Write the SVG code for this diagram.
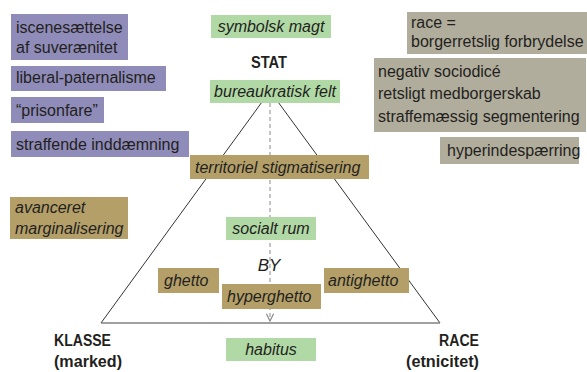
<svg xmlns="http://www.w3.org/2000/svg" width="587" height="372" viewBox="0 0 587 372">
<defs>
<style>
text{font-family:"Liberation Sans",Arial,sans-serif;font-size:16px;fill:#231f20}
.it{font-style:italic}
.b{font-weight:bold;font-size:16px}
.pu{fill:#8f8cb9}
.gr{fill:#b1ad9c}
.br{fill:#b49f69}
.gn{fill:#b1d9a6}
.mid{text-anchor:middle}
.end{text-anchor:end}
</style>
<marker id="ah" viewBox="0 0 10 10" refX="9" refY="5" markerWidth="9" markerHeight="9" orient="auto" markerUnits="userSpaceOnUse">
<path d="M1,1 L9,5 L1,9" fill="none" stroke="#888" stroke-width="1.3"/>
</marker>
</defs>
<rect width="587" height="372" fill="#fff"/>
<g id="connectors">
<line x1="101" y1="323" x2="270" y2="91" stroke="#333" stroke-width="1"/>
<line x1="440" y1="323" x2="270" y2="91" stroke="#333" stroke-width="1"/>
<line x1="101" y1="323" x2="440" y2="323" stroke="#808080" stroke-width="1.6"/>
<line x1="270" y1="103" x2="270" y2="321" stroke="#888" stroke-width="1" stroke-dasharray="4,3" marker-end="url(#ah)"/>
</g>
<g id="iscenesaettelse"><rect class="pu" x="11" y="14" width="117" height="46"/><text x="16" y="33">iscenesættelse</text><text x="16" y="53">af suverænitet</text></g>
<g id="liberal"><rect class="pu" x="11" y="66" width="155" height="25"/><text x="16" y="83">liberal-paternalisme</text></g>
<g id="prisonfare"><rect class="pu" x="11" y="97" width="93" height="26"/><text x="16" y="116">“prisonfare”</text></g>
<g id="straffende"><rect class="pu" x="11" y="131" width="178" height="26"/><text x="16" y="150">straffende inddæmning</text></g>
<g id="symbolsk"><rect class="gn" x="211" y="15" width="120" height="23"/><text class="it mid" x="271" y="32">symbolsk magt</text></g>
<g id="stat"><text class="b" x="251" y="68" textLength="36" lengthAdjust="spacingAndGlyphs">STAT</text></g>
<g id="bureau"><rect class="gn" x="210" y="80" width="130" height="23"/><text class="it mid" x="275" y="97">bureaukratisk felt</text></g>
<g id="race-box"><rect class="gr" x="407" y="12" width="180" height="42"/><text x="411" y="28">race =</text><text x="411" y="47">borgerretslig forbrydelse</text></g>
<g id="negativ"><rect class="gr" x="374" y="58" width="212" height="74"/><text x="378" y="77">negativ sociodicé</text><text x="378" y="99">retsligt medborgerskab</text><text x="378" y="122">straffemæssig segmentering</text></g>
<g id="hyperindes"><rect class="gr" x="440" y="137" width="139" height="27"/><text x="447" y="156">hyperindespærring</text></g>
<g id="territoriel"><rect class="br" x="190" y="155" width="179" height="24"/><text class="it" x="195" y="173">territoriel stigmatisering</text></g>
<g id="avanceret"><rect class="br" x="10" y="197" width="118" height="42"/><text class="it" x="15" y="213">avanceret</text><text class="it" x="15" y="234">marginalisering</text></g>
<g id="socialt"><rect class="gn" x="226" y="217" width="90" height="23"/><text class="it mid" x="271" y="234">socialt rum</text></g>
<g id="by"><text class="it mid" x="269" y="271" style="font-size:17px">BY</text></g>
<g id="ghetto"><rect class="br" x="158" y="268" width="61" height="25"/><text class="it" x="164" y="286">ghetto</text></g>
<g id="antighetto"><rect class="br" x="324" y="268" width="85" height="25"/><text class="it" x="328" y="286">antighetto</text></g>
<g id="hyperghetto"><rect class="br" x="222" y="284" width="99" height="25"/><text class="it" x="227" y="302">hyperghetto</text></g>
<g id="habitus"><rect class="gn" x="226" y="338" width="90" height="23"/><text class="it mid" x="271" y="355">habitus</text></g>
<g id="klasse"><text class="b" x="54" y="346" textLength="57" lengthAdjust="spacingAndGlyphs">KLASSE</text><text class="b" x="54" y="367" textLength="68" lengthAdjust="spacingAndGlyphs">(marked)</text></g>
<g id="race"><text class="b" x="439" y="346" textLength="40" lengthAdjust="spacingAndGlyphs">RACE</text><text class="b" x="406" y="367" textLength="73" lengthAdjust="spacingAndGlyphs">(etnicitet)</text></g>
</svg>
